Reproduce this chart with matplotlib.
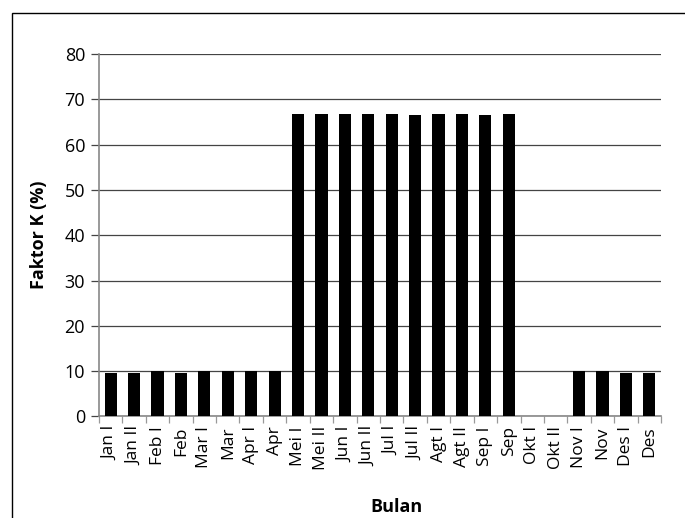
import matplotlib.pyplot as plt
from matplotlib.patches import Rectangle

plt.rcParams["font.family"] = ["Open Sans", "DejaVu Sans"]

months = [
    "Jan I", "Jan II", "Feb I", "Feb", "Mar I", "Mar", "Apr I", "Apr",
    "Mei I", "Mei II", "Jun I", "Jun II", "Jul I", "Jul II", "Agt I", "Agt II",
    "Sep I", "Sep", "Okt I", "Okt II", "Nov I", "Nov", "Des I", "Des",
]
faktor_k = [
    9.6, 9.6, 10.0, 9.6, 10.0, 10.0, 10.0, 10.0,
    66.7, 66.7, 66.7, 66.7, 66.7, 66.5, 66.7, 66.7,
    66.5, 66.7, 0.0, 0.0, 10.0, 10.0, 9.6, 9.6,
]
y_ticks = [0, 10, 20, 30, 40, 50, 60, 70, 80]

fig = plt.figure(figsize=(6.85, 5.18), dpi=100)
ax = fig.add_axes([0.1445, 0.196, 0.8205, 0.6998])

# outer chart frame
fig.patches.append(Rectangle((12 / 685, -0.1), 1.0, 1.1 - 13 / 518,
                             transform=fig.transFigure, fill=False,
                             edgecolor="black", linewidth=1.0))

x = range(len(months))
ax.bar(x, faktor_k, width=0.52, color="black", zorder=3)

ax.set_xlim(-0.5, len(months) - 0.5)
ax.set_ylim(0, 80)
ax.set_yticks(y_ticks)
ax.yaxis.grid(True, color="#444444", linewidth=0.9, zorder=0)
ax.tick_params(axis="y", labelsize=13, length=6, width=0.9, color="#444444", pad=4)

ax.set_xticks(list(x))
ax.set_xticklabels(months, rotation=90, fontsize=12.5)
ax.tick_params(axis="x", length=0, pad=7)
ax.set_xticks([i + 0.5 for i in range(-1, len(months))], minor=True)
ax.tick_params(axis="x", which="minor", length=5, color="#999999", width=0.9)

for side in ["top", "right"]:
    ax.spines[side].set_visible(False)
for side in ["left", "bottom"]:
    ax.spines[side].set_color("#888888")
    ax.spines[side].set_linewidth(1.2)

ax.set_ylabel("Faktor K (%)", fontsize=13, fontweight="bold", labelpad=12)
ax.set_xlabel("Bulan", fontsize=13, fontweight="bold", labelpad=18)
ax.xaxis.set_label_coords(0.53, -0.225)

plt.savefig("out.png", dpi=100)
plt.close()
